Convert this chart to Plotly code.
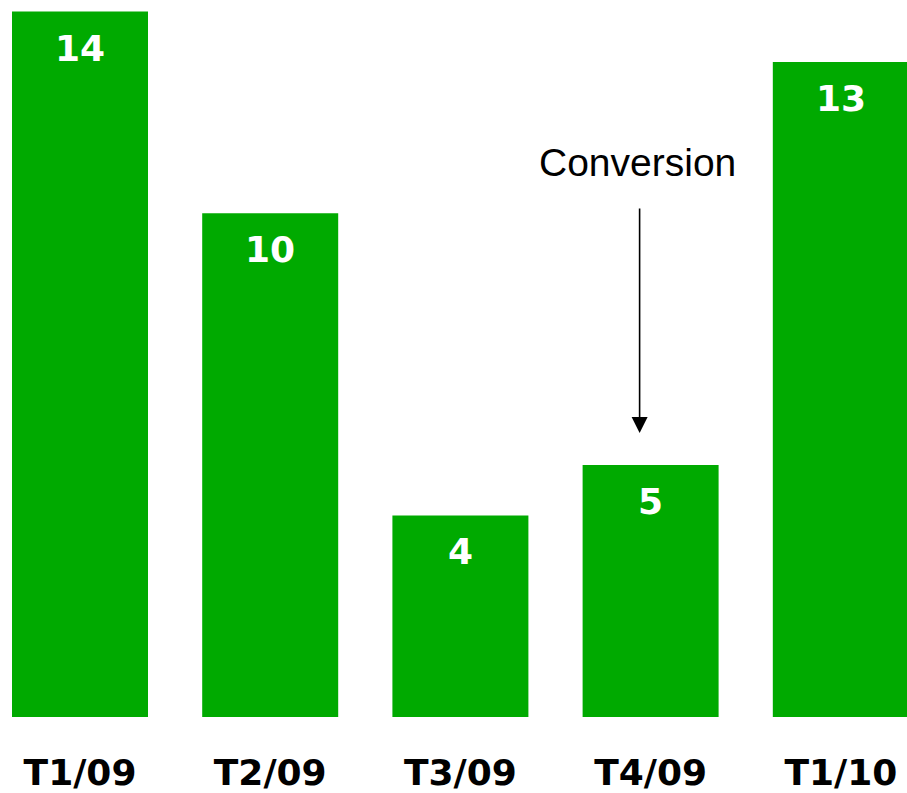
import plotly.graph_objects as go

categories = ["T1/09", "T2/09", "T3/09", "T4/09", "T1/10"]
values = [14, 10, 4, 5, 13]
bar_color = "#00AA00"

fig = go.Figure()
fig.add_trace(go.Bar(
    x=categories, y=values, width=0.715,
    marker=dict(color=bar_color, line=dict(width=0)),
    hoverinfo="skip",
))

for c, v in zip(categories, values):
    fig.add_annotation(
        x=c, y=v, text=f"<b>{v}</b>", showarrow=False,
        yanchor="top", yshift=-14,
        font=dict(family="DejaVu Sans", size=36, color="white"),
    )

fig.add_annotation(
    x="T4/09", y=5, ax=0, ay=-226, axref="pixel", ayref="pixel",
    xshift=-11, yshift=32,
    text="", showarrow=True, arrowhead=2, arrowsize=2, arrowwidth=1.6,
    arrowcolor="black",
)
fig.add_annotation(
    x="T4/09", y=5, text="Conversion", showarrow=False,
    xshift=-13, yshift=303,
    font=dict(family="Liberation Sans", size=39, color="black"),
)

fig.update_layout(
    width=907, height=793,
    margin=dict(l=0, r=0, t=0, b=76, autoexpand=False),
    paper_bgcolor="white", plot_bgcolor="white",
    showlegend=False,
    xaxis=dict(
        range=[-0.4206, 4.348], showgrid=False, zeroline=False, showline=False,
        automargin=False,
        ticks="", tickfont=dict(family="DejaVu Sans", size=36, color="black", weight="bold"),
        ticklabelstandoff=31,
    ),
    yaxis=dict(range=[0, 14.23], visible=False, automargin=False),
)

fig.write_html(
    "out.html",
    config={"displayModeBar": False, "staticPlot": True},
    post_script="document.body.style.margin='0';document.body.style.overflow='hidden';",
)
